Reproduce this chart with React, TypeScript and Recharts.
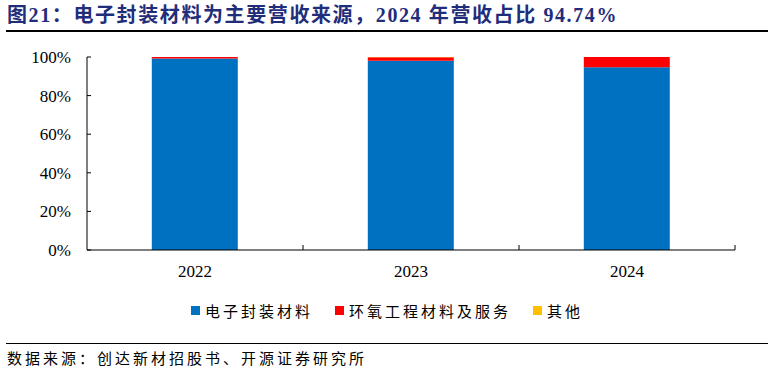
import { BarChart, Bar, XAxis, YAxis, Legend } from 'recharts';

const years = ['2022', '2023', '2024'];
const electronic = [99.2, 98.1, 94.74];
const epoxy = [0.75, 1.8, 5.2];
const other = [0.05, 0.1, 0.06];
const yTicks = [0, 20, 40, 60, 80, 100];

const series = [
  { key: 'electronic', name: '电子封装材料', color: '#0070C0' },
  { key: 'epoxy', name: '环氧工程材料及服务', color: '#FF0000' },
  { key: 'other', name: '其他', color: '#FFC000' },
];

const data = years.map((year, i) => ({
  year,
  electronic: electronic[i],
  epoxy: epoxy[i],
  other: other[i],
}));

const serif = "'Liberation Serif', 'Times New Roman', serif";
const cjk = "'Noto Sans CJK SC', sans-serif";

// category label plus a small inward tick at the right edge of each band
function YearTick(props: any) {
  const { x, y, payload } = props;
  const axisY = y - 15;
  const edge = x + (payload.offset || 0);
  return (
    <g>
      <line x1={edge} x2={edge} y1={axisY} y2={axisY - 5} stroke="#000" strokeWidth={1} />
      <text x={x} y={y} dy="0.71em" textAnchor="middle" fontFamily={serif} fontSize={17} fill="#000">
        {payload.value}
      </text>
    </g>
  );
}

function LegendContent() {
  return (
    <div
      style={{
        display: 'flex',
        justifyContent: 'center',
        alignItems: 'center',
        fontFamily: cjk,
        fontSize: 15,
        letterSpacing: '3px',
        color: '#000',
        height: 22,
      }}
    >
      {series.map((s, i) => (
        <span
          key={s.key}
          style={{ display: 'flex', alignItems: 'center', marginRight: i < series.length - 1 ? 22 : 0 }}
        >
          <span style={{ width: 9, height: 9, background: s.color, marginRight: 5, display: 'inline-block' }} />
          {s.name}
        </span>
      ))}
    </div>
  );
}

export default function App() {
  return (
    <div style={{ position: 'absolute', left: 0, top: 0, width: 774, height: 373, background: '#fff' }}>
      <div
        style={{
          position: 'absolute',
          left: 7,
          top: 5,
          fontFamily: `${serif}, ${cjk}`,
          fontWeight: 'bold',
          fontSize: 20,
          lineHeight: '20px',
          letterSpacing: '1.6px',
          color: '#1F2D7B',
          whiteSpace: 'nowrap',
        }}
      >
        图21：电子封装材料为主要营收来源，2024 年营收占比 94.74%
      </div>
      <div style={{ position: 'absolute', left: 6, top: 30, width: 762, height: 1.5, background: '#000' }} />

      <div style={{ position: 'absolute', left: 0, top: 0 }}>
        <BarChart
          width={774}
          height={340}
          data={data}
          margin={{ top: 57, right: 39, bottom: 60, left: 0 }}
          barCategoryGap="30%"
        >
          <XAxis
            dataKey="year"
            height={30}
            axisLine={{ stroke: '#000', strokeWidth: 1 }}
            tickLine={false}
            tickSize={0}
            tickMargin={15}
            tick={<YearTick />}
            interval={0}
          />
          <YAxis
            width={87}
            domain={[0, 100]}
            ticks={yTicks}
            tickFormatter={(v: number) => `${v}%`}
            axisLine={{ stroke: '#000', strokeWidth: 1 }}
            tickLine={{ stroke: '#000', strokeWidth: 1 }}
            tickSize={-4}
            tickMargin={20}
            tick={{ fontFamily: serif, fontSize: 17, fill: '#000' }}
          />
          <Legend
            verticalAlign="middle"
            align="center"
            content={<LegendContent />}
            wrapperStyle={{ top: 299, left: 0, width: 774 }}
          />
          {series.map((s) => (
            <Bar key={s.key} dataKey={s.key} name={s.name} stackId="a" fill={s.color} isAnimationActive={false} />
          ))}
        </BarChart>
      </div>

      <div style={{ position: 'absolute', left: 6, top: 343, width: 762, height: 1, background: '#000' }} />
      <div
        style={{
          position: 'absolute',
          left: 7,
          top: 350,
          fontFamily: cjk,
          fontSize: 15,
          lineHeight: '16px',
          letterSpacing: '3px',
          color: '#000',
          whiteSpace: 'nowrap',
        }}
      >
        数据来源：创达新材招股书、开源证券研究所
      </div>
    </div>
  );
}
